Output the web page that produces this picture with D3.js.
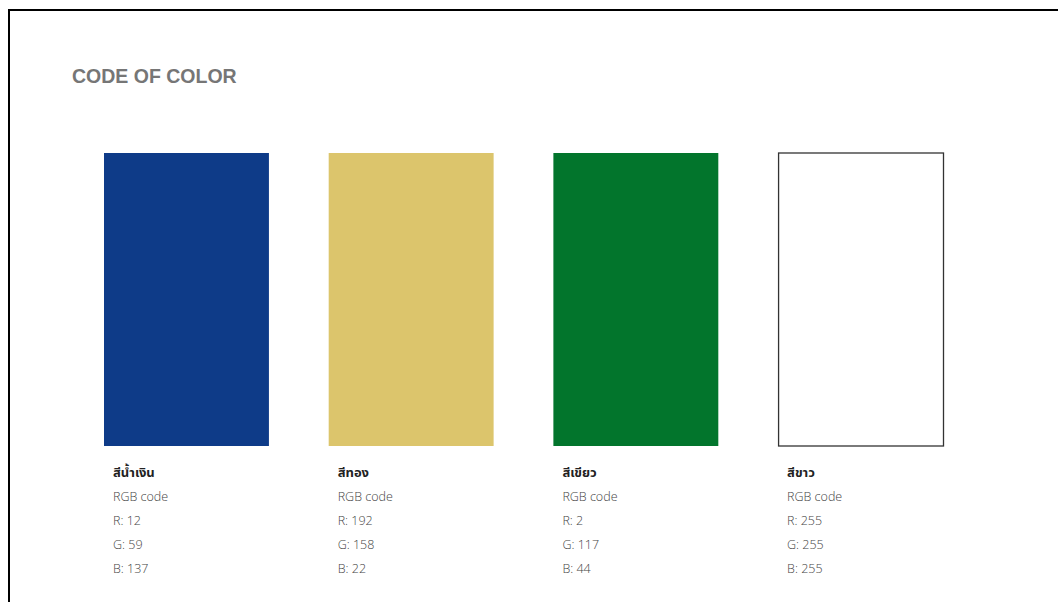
<!DOCTYPE html>
<html>
<head>
<meta charset="utf-8">
<script src="https://cdn.jsdelivr.net/npm/d3@7"></script>
<style>
html,body{margin:0;padding:0;background:#fff;}
svg{display:block;}
</style>
</head>
<body>
<svg id="chart" width="1058" height="602"></svg>
<script>
const title = "CODE OF COLOR";
const colorNames = ["สีน้ำเงิน", "สีทอง", "สีเขียว", "สีขาว"];
const valuesR = [12, 192, 2, 255];
const valuesG = [59, 158, 117, 255];
const valuesB = [137, 22, 44, 255];
const swatchFills = ["#0e3b88", "#dcc56c", "#02752c", "#ffffff"];

const svg = d3.select("#chart");

// frame lines (top and left)
svg.append("line").attr("x1", 8.5).attr("y1", 10).attr("x2", 1058).attr("y2", 10)
  .attr("stroke", "#000").attr("stroke-width", 2);
svg.append("line").attr("x1", 9).attr("y1", 9).attr("x2", 9).attr("y2", 602)
  .attr("stroke", "#000").attr("stroke-width", 2);

svg.append("text").attr("x", 72).attr("y", 83)
  .attr("font-family", "Liberation Sans, Arial, sans-serif")
  .attr("font-weight", "bold").attr("font-size", 19.5)
  .attr("fill", "#767676").text(title);

const x = d3.scaleBand().domain(colorNames).range([104, 943]).paddingInner(0.266).paddingOuter(0);
const y = d3.scaleLinear().domain([0, 1]).range([446, 153]);

const g = svg.selectAll("g.sw").data(colorNames.map((n, i) => ({
  name: n, r: valuesR[i], g: valuesG[i], b: valuesB[i], fill: swatchFills[i]
}))).join("g").attr("class", "sw");

g.append("rect")
  .attr("x", d => x(d.name) + (d.fill === "#ffffff" ? 0.5 : 0))
  .attr("y", y(1))
  .attr("width", x.bandwidth())
  .attr("height", y(0) - y(1))
  .attr("fill", d => d.fill)
  .attr("stroke", d => d.fill === "#ffffff" ? "#333" : "none")
  .attr("stroke-width", 1.3);

const tx = d => x(d.name) + 9;
g.append("text").attr("x", tx).attr("y", 477)
  .attr("font-family", "Tahoma, 'Noto Sans Thai', 'Noto Sans', sans-serif")
  .attr("font-weight", "bold").attr("font-size", 13).attr("fill", "#222")
  .text(d => d.name);
const lines = [d => "RGB code", d => "R: " + d.r, d => "G: " + d.g, d => "B: " + d.b];
lines.forEach((f, k) => {
  g.append("text").attr("x", tx).attr("y", 501 + k * 24)
    .attr("font-family", "'Open Sans', 'Noto Sans', sans-serif")
    .attr("font-weight", 300).attr("font-size", 12.5).attr("fill", "#444")
    .text(f);
});
</script>
</body>
</html>
